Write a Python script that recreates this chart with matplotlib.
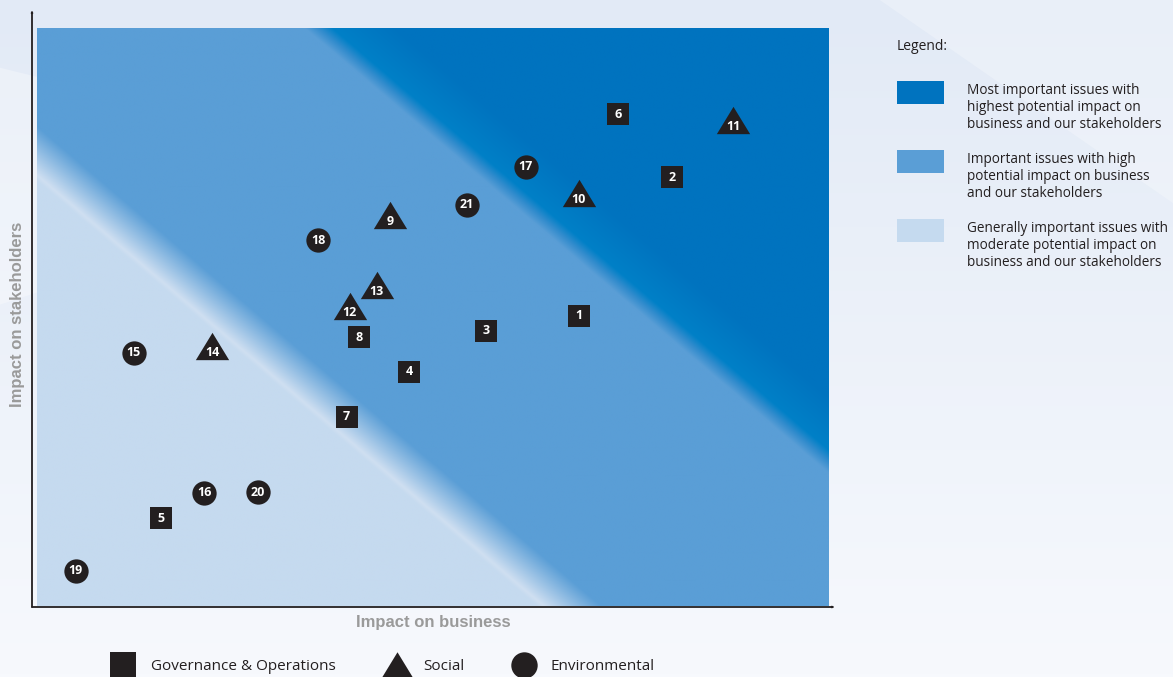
import numpy as np
import matplotlib.pyplot as plt
from matplotlib.path import Path
from matplotlib.patches import Polygon, Rectangle, FancyArrowPatch

# issue positions on the matrix (0-10 scale on both axes)
gov_ids = ["1", "2", "3", "4", "5", "6", "7", "8"]
gov_x = [6.84, 8.02, 5.67, 4.70, 1.57, 7.34, 3.91, 4.07]
gov_y = [5.02, 7.42, 4.76, 4.05, 1.52, 8.51, 3.27, 4.65]

soc_ids = ["9", "10", "11", "12", "13", "14"]
soc_x = [4.46, 6.84, 8.79, 3.95, 4.29, 2.21]
soc_y = [6.76, 7.15, 8.41, 5.19, 5.55, 4.50]

env_ids = ["15", "16", "17", "18", "19", "20", "21"]
env_x = [1.22, 2.11, 6.17, 3.55, 0.49, 2.79, 5.43]
env_y = [4.38, 1.96, 7.60, 6.33, 0.61, 1.97, 6.94]

legend_texts = [
    "Most important issues with\nhighest potential impact on\nbusiness and our stakeholders",
    "Important issues with high\npotential impact on business\nand our stakeholders",
    "Generally important issues with\nmoderate potential impact on\nbusiness and our stakeholders",
]
legend_colors = ["#0073bf", "#5a9ed6", "#c5daef"]

W, H = 1173, 677
fig = plt.figure(figsize=(W / 100, H / 100), dpi=100)
fig.patch.set_facecolor("#eef3fa")

# soft page background
bg = fig.add_axes([0, 0, 1, 1], zorder=-5)
grad = np.linspace(0, 1, 200)[:, None]
top_c = np.array([226, 234, 246]) / 255
bot_c = np.array([247, 249, 253]) / 255
bg.imshow(top_c + (bot_c - top_c) * grad[..., None], extent=[0, 1, 0, 1],
          aspect="auto", origin="upper")
bg.add_patch(Polygon([(0, 0.55), (0.35, 0.75), (0.0, 0.9)], closed=True,
                     color="white", alpha=0.3, lw=0))
bg.add_patch(Polygon([(0.75, 1.0), (1.0, 0.7), (1.0, 1.0)], closed=True,
                     color="white", alpha=0.25, lw=0))
bg.set_xlim(0, 1)
bg.set_ylim(0, 1)
bg.axis("off")

# main matrix axes
L, R, T, B = 37, 829, 28, 606
ax = fig.add_axes([L / W, 1 - B / H, (R - L) / W, (B - T) / H])
ax.set_xlim(0, 10)
ax.set_ylim(0, 10)

# diagonal colour bands
gx, gy = np.meshgrid(np.linspace(0, 10, 800), np.linspace(0, 10, 600))
s = gy + 1.165 * gx
stops = [7.35, 7.45, 8.3, 13.95, 14.15, 14.35, 15.3]
cols = np.array([[197, 218, 239], [207, 223, 241], [90, 158, 214], [90, 158, 214],
                 [50, 140, 205], [0, 128, 199], [0, 115, 191]]) / 255
img = np.stack([np.interp(s, stops, cols[:, k]) for k in range(3)], axis=-1)
ax.imshow(img, extent=[0, 10, 0, 10], origin="lower", aspect="auto", zorder=0)

tri = Path([(-1, -0.82), (1, -0.82), (0, 0.82), (-1, -0.82)])
ax.scatter(gov_x, gov_y, marker="s", s=16.5 ** 2, color="#231f20", lw=0, zorder=3)
ax.scatter(soc_x, soc_y, marker=tri, s=24 ** 2, color="#231f20", lw=0, zorder=3)
ax.scatter(env_x, env_y, marker="o", s=17.5 ** 2, color="#231f20", lw=0, zorder=3)

lab = dict(color="white", fontsize=9, fontweight="bold", family="Open Sans",
           ha="center", va="center", zorder=4)
for i, x, y in zip(gov_ids, gov_x, gov_y):
    ax.text(x, y, i, **lab)
for i, x, y in zip(soc_ids, soc_x, soc_y):
    ax.text(x, y - 0.11, i, **lab)
for i, x, y in zip(env_ids, env_x, env_y):
    ax.text(x, y, i, **lab)

ax.set_xticks([])
ax.set_yticks([])
for sp in ax.spines.values():
    sp.set_visible(False)


def fpt(x, y):
    return (x / W, 1 - y / H)


# axis arrows
arrow = dict(arrowstyle="-|>,head_length=0.7,head_width=0.3", color="#231f20",
             lw=1.3, shrinkA=0, shrinkB=0)
fig.add_artist(FancyArrowPatch(fpt(32, 607), fpt(32, 10),
                               transform=fig.transFigure, **arrow))
fig.add_artist(FancyArrowPatch(fpt(32, 607), fpt(835, 607),
                               transform=fig.transFigure, **arrow))

fig.text(*fpt(433, 622), "Impact on business", ha="center", va="center",
         fontsize=12, fontweight="bold", color="#9a9a9a", family="Liberation Sans")
fig.text(*fpt(18, 314), "Impact on stakeholders", ha="center", va="center",
         rotation=90, fontsize=12, fontweight="bold", color="#9a9a9a",
         family="Liberation Sans")

# colour legend on the right
fig.text(*fpt(897, 46), "Legend:", ha="left", va="center", fontsize=10,
         color="#231f20", family="Open Sans")
for k, (txt, c) in enumerate(zip(legend_texts, legend_colors)):
    y0 = 81 + 69 * k
    fig.add_artist(Rectangle(fpt(897, y0 + 23), 47 / W, 23 / H,
                             transform=fig.transFigure, color=c, lw=0))
    fig.text(*fpt(967, y0 + 2), txt, ha="left", va="top", fontsize=9.8,
             color="#231f20", family="Open Sans", linespacing=1.2)

# marker-type legend at the bottom
lg = fig.add_axes([0, 0, 1, 1], zorder=5)
lg.set_xlim(0, W)
lg.set_ylim(H, 0)
lg.axis("off")
lg.scatter([123], [665], marker="s", s=19 ** 2, color="#231f20", lw=0)
lg.scatter([397], [666], marker=tri, s=25 ** 2, color="#231f20", lw=0)
lg.scatter([524], [665], marker="o", s=19 ** 2, color="#231f20", lw=0)
for x, t in [(151, "Governance & Operations"), (423, "Social"), (551, "Environmental")]:
    lg.text(x, 667, t, ha="left", va="center", fontsize=11, color="#231f20",
            family="Open Sans")

fig.savefig("out.png", dpi=100, facecolor=fig.get_facecolor())
